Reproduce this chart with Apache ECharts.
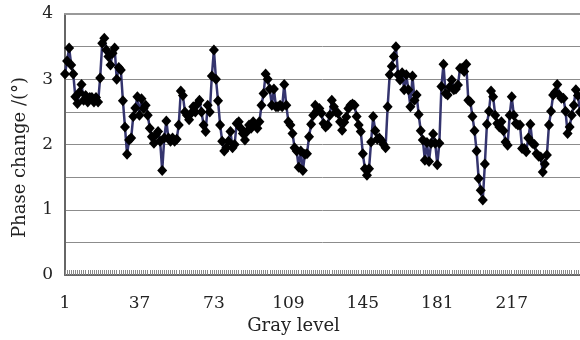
<!DOCTYPE html>
<html>
<head>
<meta charset="utf-8">
<script src="https://cdn.jsdelivr.net/npm/echarts@6/dist/echarts.min.js"></script>
<style>
  html, body { margin: 0; padding: 0; background: #fff; }
  #chart { width: 580px; height: 340px; }
</style>
</head>
<body>
<div id="chart"></div>
<script>
// gray levels shown in the picture (the plot is cut at the right edge)
const grayLevels = []
for (let g = 1; g <= 250; g++) grayLevels.push(String(g))

const tickLabels = ['1', '37', '73', '109', '145', '181', '217']

// phase change (degrees)
const phase = [
  3.08, 3.28, 3.48, 3.22, 3.08, 2.73, 2.63, 2.80, 2.92, 2.68,
  2.75, 2.65, 2.72, 2.72, 2.65, 2.72, 2.65, 3.02, 3.55, 3.63,
  3.45, 3.35, 3.22, 3.40, 3.48, 3.00, 3.18, 3.14, 2.67, 2.27,
  1.85, 2.07, 2.10, 2.43, 2.56, 2.73, 2.45, 2.70, 2.55, 2.60,
  2.45, 2.25, 2.12, 2.02, 2.15, 2.20, 2.05, 1.60, 2.10, 2.36,
  2.10, 2.05, 2.10, 2.05, 2.08, 2.30, 2.82, 2.75, 2.50, 2.45,
  2.38, 2.48, 2.58, 2.50, 2.62, 2.68, 2.50, 2.30, 2.20, 2.60,
  2.50, 3.05, 3.45, 3.00, 2.67, 2.30, 2.05, 1.90, 1.95, 2.05,
  2.20, 1.95, 2.00, 2.32, 2.35, 2.25, 2.17, 2.07, 2.20, 2.30,
  2.25, 2.35, 2.30, 2.25, 2.35, 2.60, 2.78, 3.08, 3.00, 2.85,
  2.60, 2.85, 2.58, 2.58, 2.60, 2.58, 2.92, 2.60, 2.35, 2.30,
  2.17, 1.95, 1.90, 1.65, 1.90, 1.60, 1.85, 1.86, 2.12, 2.31,
  2.45, 2.60, 2.52, 2.55, 2.48, 2.32, 2.27, 2.30, 2.45, 2.68,
  2.58, 2.50, 2.48, 2.35, 2.22, 2.34, 2.42, 2.55, 2.60, 2.62,
  2.60, 2.43, 2.30, 2.20, 1.86, 1.63, 1.53, 1.63, 2.04, 2.43,
  2.21, 2.08, 2.10, 2.06, 2.00, 1.95, 2.58, 3.07, 3.20, 3.35,
  3.50, 3.07, 2.99, 3.10, 2.84, 3.07, 2.84, 2.58, 3.05, 2.68,
  2.76, 2.46, 2.21, 2.07, 1.76, 2.03, 1.74, 2.02, 2.16, 2.02,
  1.69, 2.02, 2.89, 3.23, 2.78, 2.76, 2.88, 2.99, 2.84, 2.85,
  2.91, 3.17, 3.17, 3.12, 3.23, 2.68, 2.65, 2.43, 2.21, 1.90,
  1.48, 1.30, 1.15, 1.70, 2.31, 2.51, 2.82, 2.73, 2.45, 2.32,
  2.27, 2.35, 2.21, 2.04, 1.99, 2.45, 2.73, 2.45, 2.32, 2.30,
  2.30, 1.94, 1.94, 1.89, 2.10, 2.31, 2.02, 2.00, 1.86, 1.82,
  1.81, 1.58, 1.70, 1.84, 2.30, 2.51, 2.76, 2.80, 2.92, 2.76,
  2.71, 2.71, 2.51, 2.17, 2.27, 2.45, 2.60, 2.84, 2.75, 2.50
]

const font = 'DejaVu Serif'
const chart = echarts.init(document.getElementById('chart'), null, { renderer: 'canvas' })

chart.setOption({
  backgroundColor: '#ffffff',
  animation: false,
  textStyle: { fontFamily: font },
  grid: {
    left: 65,
    top: 14,
    right: 0,
    bottom: 65
  },
  xAxis: [{
    type: 'category',
    data: grayLevels,
    boundaryGap: false,
    name: 'Gray level',
    nameLocation: 'middle',
    nameGap: 41,
    nameTextStyle: {
      fontFamily: font,
      fontSize: 18,
      color: '#222',
      padding: [0, 58, 0, 0] // title sits left of the visible centre
    },
    axisLine: { show: true, lineStyle: { color: '#666', width: 2 } },
    axisTick: {
      show: true,
      inside: true,
      interval: 0,
      length: 5,
      lineStyle: { color: '#888', width: 1 }
    },
    axisLabel: {
      interval: (i, v) => tickLabels.indexOf(v) >= 0,
      margin: 20,
      fontFamily: font,
      fontSize: 17,
      color: '#222'
    },
    splitLine: { show: false }
  }, {
    // top border of the plot
    type: 'category',
    data: grayLevels,
    boundaryGap: false,
    position: 'top',
    axisLine: { show: true, lineStyle: { color: '#999', width: 2 } },
    axisTick: { show: false },
    axisLabel: { show: false }
  }],
  yAxis: {
    type: 'value',
    min: 0,
    max: 4,
    interval: 0.5,
    name: 'Phase change /(°)',
    nameLocation: 'middle',
    nameGap: 36,
    nameTextStyle: {
      fontFamily: font,
      fontSize: 18,
      color: '#222',
      padding: [0, 26, 0, 0]
    },
    axisLine: { show: true, lineStyle: { color: '#666', width: 2 } },
    axisTick: { show: false },
    axisLabel: {
      margin: 12,
      fontFamily: font,
      fontSize: 17,
      color: '#222',
      formatter: v => (v % 1 === 0 ? String(v) : '')
    },
    splitLine: { show: true, lineStyle: { color: '#8c8c8c', width: 1 } }
  },
  series: [{
    name: 'phase',
    type: 'line',
    data: phase,
    symbol: 'diamond',
    symbolSize: [10, 11],
    showAllSymbol: true,
    itemStyle: { color: '#000' },
    lineStyle: { color: '#34346e', width: 2.5 }
  }]
})
</script>
</body>
</html>
